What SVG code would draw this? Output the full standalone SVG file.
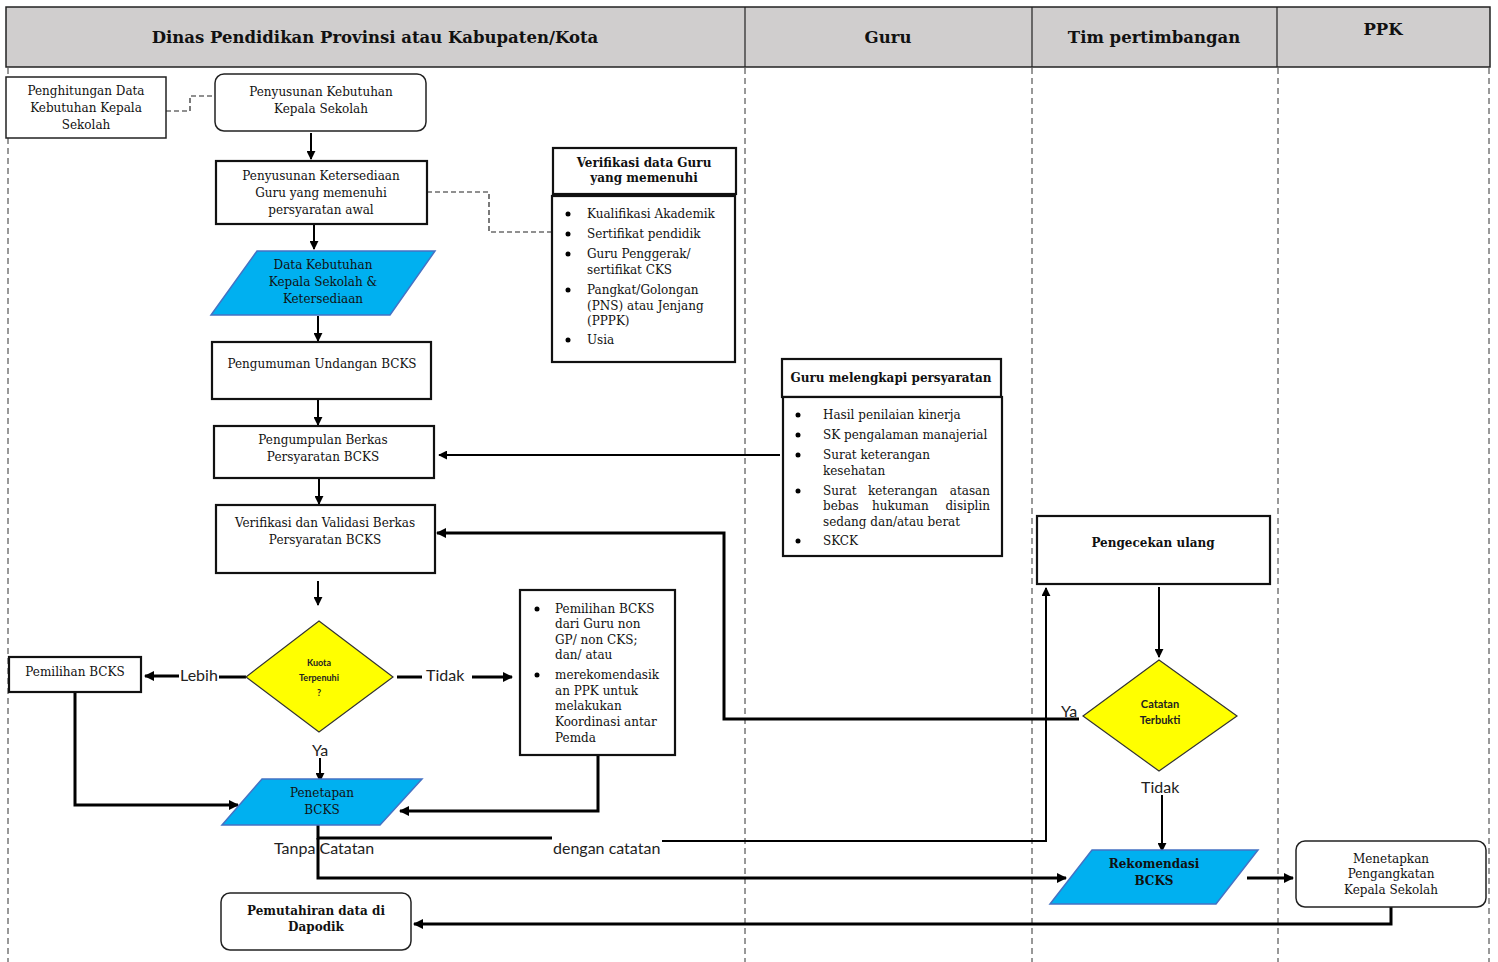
<svg xmlns="http://www.w3.org/2000/svg" width="1498" height="962" viewBox="0 0 1498 962">
<defs>
<style>
.bg{fill:#ffffff}
.hdr{fill:#D0CECE;stroke:#222;stroke-width:1.5}
.lane{stroke:#333;stroke-width:1;stroke-dasharray:6,4;fill:none}
.box{fill:#fff;stroke:#222;stroke-width:1.5}
.box2{fill:#fff;stroke:#111;stroke-width:2.2}
.para{fill:#00B0F0;stroke:#4472C4;stroke-width:1.5}
.dia{fill:#FFFF00;stroke:#333;stroke-width:1.2}
.t{font-family:"DejaVu Serif","Liberation Serif",serif;font-size:12px;fill:#111;text-anchor:middle}
.tl{font-family:"DejaVu Serif","Liberation Serif",serif;font-size:12px;fill:#111}
.tb{font-family:"DejaVu Serif","Liberation Serif",serif;font-size:12px;font-weight:bold;fill:#111;text-anchor:middle}
.th{font-family:"DejaVu Serif","Liberation Serif",serif;font-size:16.5px;font-weight:bold;fill:#111;text-anchor:middle}
.lab{font-family:Lato,"Liberation Sans",sans-serif;font-size:16px;fill:#222}
.ds{font-family:Lato,"Liberation Sans",sans-serif;font-weight:bold;fill:#222;text-anchor:middle}
.c2{stroke:#000;stroke-width:2;fill:none}
.c3{stroke:#000;stroke-width:3;fill:none}
.dash{stroke:#222;stroke-width:1.2;stroke-dasharray:5,3;fill:none}
</style>
<marker id="ah" viewBox="0 0 10 10" refX="9" refY="5" markerWidth="4.5" markerHeight="4.5" orient="auto" markerUnits="strokeWidth"><path d="M0,0 L10,5 L0,10 z" fill="#000"/></marker>
<marker id="ah3" viewBox="0 0 10 10" refX="9" refY="5" markerWidth="3.4" markerHeight="3.4" orient="auto" markerUnits="strokeWidth"><path d="M0,0 L10,5 L0,10 z" fill="#000"/></marker>
</defs>
<rect class="bg" x="0" y="0" width="1498" height="962"/>

<g id="lanes">
<rect class="hdr" x="6" y="7" width="1484" height="60"/>
<line x1="745" y1="7" x2="745" y2="67" stroke="#222" stroke-width="1.2"/>
<line x1="1032" y1="7" x2="1032" y2="67" stroke="#222" stroke-width="1.2"/>
<line x1="1277" y1="7" x2="1277" y2="67" stroke="#222" stroke-width="1.2"/>
<text class="th" x="375" y="43">Dinas Pendidikan Provinsi atau Kabupaten/Kota</text>
<text class="th" x="888" y="43">Guru</text>
<text class="th" x="1154" y="43">Tim pertimbangan</text>
<text class="th" x="1383" y="35">PPK</text>
<line class="lane" x1="8" y1="68" x2="8" y2="962"/>
<line class="lane" x1="745" y1="68" x2="745" y2="962"/>
<line class="lane" x1="1032" y1="68" x2="1032" y2="962"/>
<line class="lane" x1="1278" y1="68" x2="1278" y2="962"/>
<line class="lane" x1="1489" y1="68" x2="1489" y2="962"/>
</g>

<g id="connectors">
<polyline class="dash" points="166,111 190,111 190,96 215,96"/>
<polyline class="dash" points="427,192 489,192 489,232 553,232"/>
<line class="c2" x1="311" y1="133" x2="311" y2="159" marker-end="url(#ah)"/>
<line class="c2" x1="314" y1="225" x2="314" y2="249" marker-end="url(#ah)"/>
<line class="c2" x1="318" y1="316" x2="318" y2="341" marker-end="url(#ah)"/>
<line class="c2" x1="318" y1="400" x2="318" y2="425" marker-end="url(#ah)"/>
<line class="c2" x1="319" y1="479" x2="319" y2="504" marker-end="url(#ah)"/>
<line class="c2" x1="318" y1="581" x2="318" y2="605" marker-end="url(#ah)"/>
<line class="c2" x1="780" y1="455" x2="439" y2="455" marker-end="url(#ah)"/>
<!-- Lebih -->
<line class="c3" x1="246" y1="677" x2="219" y2="677"/>
<line class="c3" x1="179" y1="676" x2="145" y2="676" marker-end="url(#ah3)"/>
<text class="lab" x="180" y="681">Lebih</text>
<!-- Tidak -->
<line class="c3" x1="397" y1="677" x2="422" y2="677"/>
<text class="lab" x="426" y="681">Tidak</text>
<line class="c3" x1="472" y1="677" x2="512" y2="677" marker-end="url(#ah3)"/>
<!-- Ya -->
<text class="lab" x="312" y="756">Ya</text>
<line class="c2" x1="320" y1="758" x2="320" y2="781" marker-end="url(#ah)"/>
<polyline class="c3" points="75,692 75,805 238,805" marker-end="url(#ah3)"/>
<polyline class="c3" points="598,755 598,811 400,811" marker-end="url(#ah3)"/>
<!-- dengan catatan -->
<polyline class="c3" points="318,825 318,838 552,838"/>
<text class="lab" x="553" y="854">dengan catatan</text>
<polyline class="c2" points="662,841 1046,841 1046,588" marker-end="url(#ah)"/>
<!-- tanpa catatan -->
<text class="lab" x="274" y="854">Tanpa Catatan</text>
<polyline class="c3" points="318,838 318,878 1066,878" marker-end="url(#ah3)"/>
<!-- Pengecekan to Catatan -->
<line class="c2" x1="1159" y1="587" x2="1159" y2="657" marker-end="url(#ah)"/>
<!-- Ya from Catatan back to Verifikasi -->
<text class="lab" x="1061" y="717">Ya</text>
<polyline class="c3" points="1079,719 724,719 724,533 437,533" marker-end="url(#ah3)"/>
<!-- Tidak to Rekomendasi -->
<text class="lab" x="1141" y="793">Tidak</text>
<line class="c2" x1="1162" y1="795" x2="1162" y2="851" marker-end="url(#ah)"/>
<line class="c3" x1="1247" y1="878" x2="1293" y2="878" marker-end="url(#ah3)"/>
<polyline class="c3" points="1391,907 1391,924 414,924" marker-end="url(#ah3)"/>
</g>

<g id="n-penghitungan">
<rect class="box" x="6" y="77" width="160" height="61"/>
<text class="t" x="86" y="95">Penghitungan Data</text>
<text class="t" x="86" y="112">Kebutuhan Kepala</text>
<text class="t" x="86" y="129">Sekolah</text>
</g>
<g id="n-penyusunan-kebutuhan">
<rect class="box" x="215" y="74" width="211" height="57" rx="9"/>
<text class="t" x="321" y="96">Penyusunan Kebutuhan</text>
<text class="t" x="321" y="113">Kepala Sekolah</text>
</g>
<g id="n-penyusunan-ketersediaan">
<rect class="box2" x="216" y="161" width="211" height="63"/>
<text class="t" x="321" y="180">Penyusunan Ketersediaan</text>
<text class="t" x="321" y="197">Guru yang memenuhi</text>
<text class="t" x="321" y="214">persyaratan awal</text>
</g>
<g id="n-verifikasi-data">
<rect class="box2" x="553" y="148" width="183" height="46"/>
<text class="tb" x="644" y="167">Verifikasi data Guru</text>
<text class="tb" x="644" y="182">yang memenuhi</text>
<rect class="box2" x="552" y="196" width="183" height="166"/>
<circle cx="568" cy="214" r="2.5" fill="#000"/><text class="tl" x="587" y="218">Kualifikasi Akademik</text>
<circle cx="568" cy="234" r="2.5" fill="#000"/><text class="tl" x="587" y="238">Sertifikat pendidik</text>
<circle cx="568" cy="254" r="2.5" fill="#000"/><text class="tl" x="587" y="258">Guru Penggerak/</text>
<text class="tl" x="587" y="274">sertifikat CKS</text>
<circle cx="568" cy="290" r="2.5" fill="#000"/><text class="tl" x="587" y="294">Pangkat/Golongan</text>
<text class="tl" x="587" y="310">(PNS) atau Jenjang</text>
<text class="tl" x="587" y="325">(PPPK)</text>
<circle cx="568" cy="340" r="2.5" fill="#000"/><text class="tl" x="587" y="344">Usia</text>
</g>
<g id="n-data-kebutuhan">
<polygon class="para" points="257,251 435,251 390,315 211,315"/>
<text class="t" x="323" y="269">Data Kebutuhan</text>
<text class="t" x="323" y="286">Kepala Sekolah &amp;</text>
<text class="t" x="323" y="303">Ketersediaan</text>
</g>
<g id="n-pengumuman">
<rect class="box2" x="212" y="342" width="219" height="57"/>
<text class="t" x="322" y="368">Pengumuman Undangan BCKS</text>
</g>
<g id="n-pengumpulan">
<rect class="box2" x="214" y="426" width="220" height="52"/>
<text class="t" x="323" y="444">Pengumpulan Berkas</text>
<text class="t" x="323" y="461">Persyaratan BCKS</text>
</g>
<g id="n-verifikasi-validasi">
<rect class="box2" x="216" y="505" width="219" height="68"/>
<text class="t" x="325" y="527">Verifikasi dan Validasi Berkas</text>
<text class="t" x="325" y="544">Persyaratan BCKS</text>
</g>
<g id="n-guru-melengkapi">
<rect class="box2" x="782" y="359" width="219" height="38"/>
<text class="tb" x="891" y="382">Guru melengkapi persyaratan</text>
<rect class="box2" x="783" y="397" width="219" height="159"/>
<circle cx="798" cy="415" r="2.5" fill="#000"/><text class="tl" x="823" y="419">Hasil penilaian kinerja</text>
<circle cx="798" cy="435" r="2.5" fill="#000"/><text class="tl" x="823" y="439">SK pengalaman manajerial</text>
<circle cx="798" cy="455" r="2.5" fill="#000"/><text class="tl" x="823" y="459">Surat keterangan</text>
<text class="tl" x="823" y="475">kesehatan</text>
<circle cx="798" cy="491" r="2.5" fill="#000"/><text class="tl" x="823" y="495">Surat</text><text class="tl" x="868" y="495">keterangan</text><text class="tl" x="990" y="495" text-anchor="end">atasan</text>
<text class="tl" x="823" y="510">bebas</text><text class="tl" x="872" y="510">hukuman</text><text class="tl" x="990" y="510" text-anchor="end">disiplin</text>
<text class="tl" x="823" y="526">sedang dan/atau berat</text>
<circle cx="798" cy="541" r="2.5" fill="#000"/><text class="tl" x="823" y="545">SKCK</text>
</g>
<g id="n-kuota">
<polygon class="dia" points="319,621 393,677 319,732 246,677"/>
<text class="ds" x="319" y="666" font-size="9">Kuota</text>
<text class="ds" x="319" y="681" font-size="9">Terpenuhi</text>
<text class="ds" x="319" y="696" font-size="9">?</text>
</g>
<g id="n-pemilihan-bcks">
<rect class="box2" x="9" y="657" width="132" height="35"/>
<text class="t" x="75" y="676">Pemilihan BCKS</text>
</g>
<g id="n-pemilihan-list">
<rect class="box2" x="520" y="590" width="155" height="165"/>
<circle cx="537" cy="609" r="2.5" fill="#000"/>
<text class="tl" x="555" y="613">Pemilihan BCKS</text>
<text class="tl" x="555" y="628">dari Guru non</text>
<text class="tl" x="555" y="644">GP/ non CKS;</text>
<text class="tl" x="555" y="659">dan/ atau</text>
<circle cx="537" cy="675" r="2.5" fill="#000"/>
<text class="tl" x="555" y="679">merekomendasik</text>
<text class="tl" x="555" y="695">an PPK untuk</text>
<text class="tl" x="555" y="710">melakukan</text>
<text class="tl" x="555" y="726">Koordinasi antar</text>
<text class="tl" x="555" y="742">Pemda</text>
</g>
<g id="n-penetapan">
<polygon class="para" points="262,779 422,779 380,825 222,825"/>
<text class="t" x="322" y="797">Penetapan</text>
<text class="t" x="322" y="814">BCKS</text>
</g>
<g id="n-pengecekan">
<rect class="box2" x="1037" y="516" width="233" height="68"/>
<text class="tb" x="1153" y="547">Pengecekan ulang</text>
</g>
<g id="n-catatan">
<polygon class="dia" points="1159,660 1237,716 1159,771 1083,716"/>
<text class="ds" x="1160" y="708" font-size="11">Catatan</text>
<text class="ds" x="1160" y="724" font-size="11">Terbukti</text>
</g>
<g id="n-rekomendasi">
<polygon class="para" points="1092,850 1258,850 1216,904 1050,904"/>
<text class="tb" x="1154" y="868">Rekomendasi</text>
<text class="tb" x="1154" y="885">BCKS</text>
</g>
<g id="n-menetapkan">
<rect class="box" x="1296" y="841" width="190" height="66" rx="9"/>
<text class="t" x="1391" y="863">Menetapkan</text>
<text class="t" x="1391" y="878">Pengangkatan</text>
<text class="t" x="1391" y="894">Kepala Sekolah</text>
</g>
<g id="n-pemutahiran">
<rect class="box" x="221" y="893" width="190" height="57" rx="9"/>
<text class="tb" x="316" y="915">Pemutahiran data di</text>
<text class="tb" x="316" y="931">Dapodik</text>
</g>
</svg>
